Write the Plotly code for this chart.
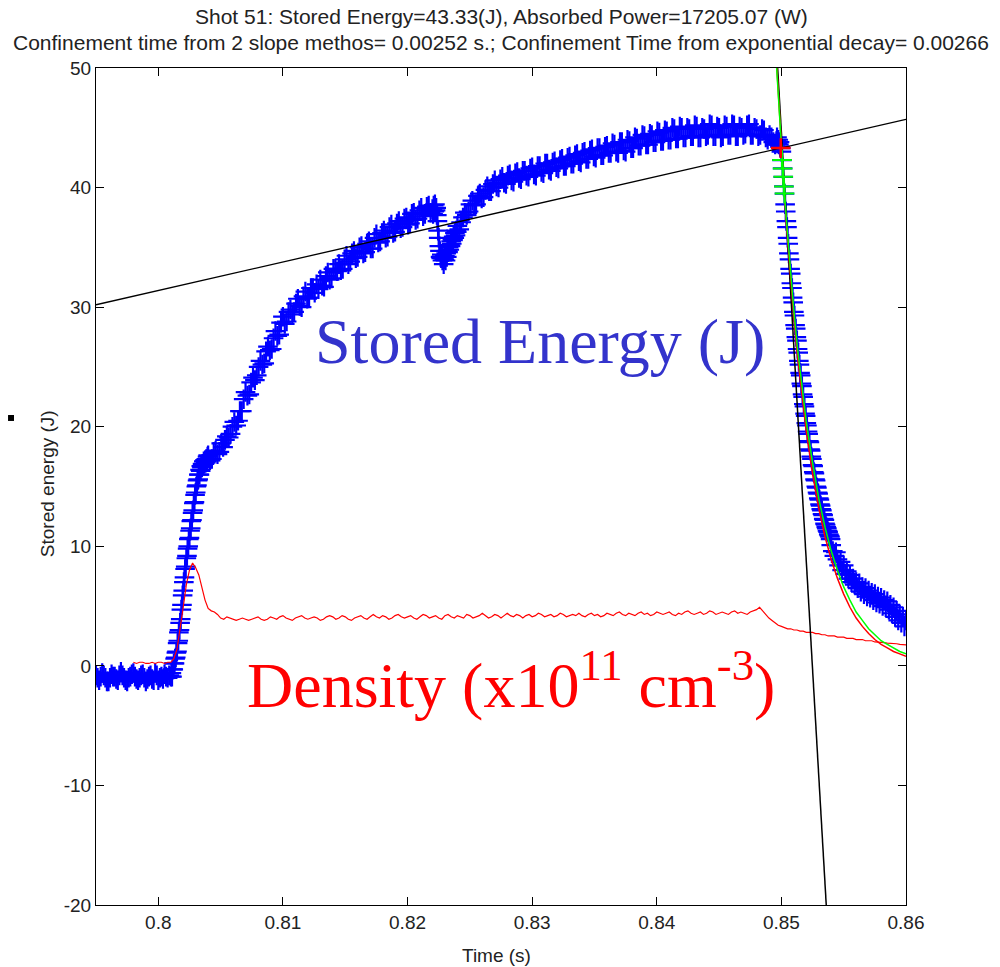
import numpy as np
import plotly.graph_objects as go

# ---------------- data ----------------
# Stored energy (J): sampled segments (start time, sample step, values)
E_A_T0, E_A_DT = 0.7950, 0.000125
E_A = [-0.8, -1.0, -1.2, -0.9, -0.6, -0.8, -1.0, -1.3, -1.3, -1.0, -0.7, -0.9,
       -0.9, -1.1, -1.2, -0.8, -0.5, -0.8, -1.0, -1.2, -1.3, -1.0, -0.9, -0.7,
       -0.6, -0.9, -1.1, -1.2, -1.0, -0.8, -0.7, -1.0, -1.3, -1.1, -0.9, -0.8,
       -1.1, -1.2, -0.6, -0.8, -1.2, -1.0, -0.9, -1.1, -0.7, -0.9, -1.0, -0.8]

E_B_T0, E_B_DT = 0.8010, 0.00005
E_B = [-0.9, -0.6, -0.9, -0.3, -0.3, 0.2, 0.2, 0.6, 0.7, 1.1,
       1.2, 1.9, 2.1, 2.8, 3.0, 3.6, 3.9, 4.7, 5.1, 5.9,
       6.3, 7.0, 7.4, 8.1, 8.3, 9.0, 9.2, 9.8, 10.0, 10.6,
       10.7, 11.3, 11.5, 12.1, 12.2, 12.8, 13.0, 13.6, 13.7, 14.3,
       14.5, 15.0, 15.1, 15.5, 15.6, 16.0, 16.0, 16.4, 16.3, 16.7,
       16.6, 16.9, 16.8, 17.1, 16.9, 17.2, 17.0, 17.3, 17.1, 17.5]

E_C1_T0, E_C1_DT = 0.8040, 0.00015
E_C1 = [17.6, 17.2, 17.3, 17.9, 18.0, 17.7, 17.9, 18.6, 18.3, 18.9,
        19.2, 19.1, 19.4, 20.0, 20.4, 20.1, 20.5, 21.3, 21.3, 22.3,
        22.9, 22.6, 22.7, 23.7, 24.1, 23.9, 24.3, 25.0, 25.5, 25.2,
        25.3, 26.3, 26.7, 26.4, 26.5, 27.4, 28.0, 27.6, 27.7, 28.7,
        29.2, 28.6, 28.8, 29.6, 29.8, 29.4, 29.6, 30.3, 30.7, 30.1,
        30.0, 30.9, 31.3, 30.7, 30.8, 31.6, 31.6, 31.2, 31.9, 31.5,
        32.3, 31.8, 31.7, 32.6, 32.9, 32.3, 32.4, 33.2, 33.2, 33.0,
        33.6, 33.1, 33.2, 34.0, 34.3, 33.6, 33.8, 34.5, 34.7, 34.1,
        34.2, 35.0, 35.1, 34.5, 34.6, 35.3, 35.5, 34.9, 34.9, 35.8,
        36.1, 35.4, 35.5, 36.2, 36.4, 35.8, 35.9, 36.7, 36.9, 36.2,
        36.3, 37.0, 37.2, 36.6, 36.7, 37.4, 37.5, 36.9, 37.0, 37.8,
        37.9, 37.3, 37.4, 38.1, 38.3, 37.6, 37.8, 38.4, 38.5, 37.9]

E_C2_T0, E_C2_DT = 0.8220, 0.00005
E_C2 = [38.2, 37.8, 38.5, 38.0, 38.6, 38.1, 38.3, 37.7, 37.2, 36.4,
        35.8, 35.1, 34.7, 34.2, 34.1, 34.4, 33.9, 34.1, 33.6, 34.0,
        34.3, 33.9, 34.5, 34.2, 34.7, 34.6, 35.0, 34.8, 35.2, 35.1,
        35.5, 35.3, 35.7, 35.6, 35.9, 35.8, 36.2, 36.0, 36.4, 36.3]

E_C3_T0, E_C3_DT = 0.8240, 0.00015
E_C3 = [36.8, 36.5, 37.1, 37.5, 37.9, 37.7, 38.0, 38.6, 38.9, 38.5,
        38.6, 39.3, 39.5, 39.1, 39.2, 39.8, 40.1, 39.7, 39.7, 40.3,
        40.6, 40.1, 40.0, 40.7, 40.9, 40.4, 40.3, 41.0, 41.1, 40.6,
        40.5, 41.2, 41.3, 40.8, 40.7, 41.4, 41.4, 41.0, 40.9, 41.6,
        41.7, 41.1, 41.0, 41.8, 41.8, 41.3, 41.2, 42.0, 42.0, 41.5,
        41.4, 42.1, 42.2, 41.7, 41.6, 42.3, 42.4, 41.8, 41.8, 42.5,
        42.6, 42.0, 42.0, 42.7, 42.8, 42.2, 42.1, 42.9, 43.0, 42.4,
        42.4, 43.1, 43.2, 42.6, 42.5, 43.3, 43.3, 42.7, 42.7, 43.4,
        43.5, 42.9, 42.9, 43.7, 43.6, 43.0, 42.9, 43.8, 43.8, 43.1,
        43.0, 44.0, 43.9, 43.3, 43.3, 44.2, 44.1, 43.5, 43.5, 44.4,
        44.3, 43.6, 43.6, 44.5, 44.4, 43.8, 43.8, 44.7, 44.6, 43.9,
        43.9, 44.8, 44.7, 44.0, 44.0, 45.0, 44.9, 44.1, 44.1, 45.1,
        45.0, 44.2, 44.2, 45.0, 44.9, 44.3, 44.3, 45.2, 45.1, 44.2,
        44.2, 45.0, 44.9, 44.3, 44.4, 45.3, 45.2, 44.3, 44.3, 45.1,
        45.0, 44.2, 44.3, 45.2, 45.1, 44.4, 44.4, 45.3, 45.2, 44.3,
        44.3, 45.1, 45.0, 44.4, 44.5, 45.2, 45.3, 44.4, 44.4, 45.0,
        44.9, 44.3, 44.4, 44.9, 44.8, 44.2, 44.0, 44.4, 44.2, 43.8,
        43.6]

E_D_T0, E_D_DT = 0.8496, 0.00005
E_D = [43.9, 44.2, 43.7, 44.0, 43.6, 43.8, 43.4, 43.3,
       43.0, 42.3, 41.6, 40.9, 40.1, 39.5, 38.6, 38.0, 37.2, 36.7,
       35.8, 35.3, 34.5, 34.0, 33.2, 32.8, 32.0, 31.6, 30.8, 30.4,
       29.6, 29.3, 28.5, 28.2, 27.5, 27.2, 26.5, 26.2, 25.5, 25.2,
       24.5, 24.3, 23.6, 23.4, 22.7, 22.5, 21.9, 21.7, 21.1, 20.9,
       20.3, 20.1, 19.6, 19.4, 18.8, 18.7, 18.1, 18.0, 17.5, 17.3,
       16.8, 16.7, 16.2, 16.1, 15.6, 15.5, 15.0, 14.9, 14.5, 14.4,
       14.0, 13.9, 13.5, 13.4, 13.1, 13.0, 12.7, 12.6, 12.3, 12.2,
       11.9, 11.8, 11.6, 11.5, 11.3, 11.2, 11.0, 10.9, 10.8, 10.6]

E_E_T0, E_E_DT = 0.8540, 0.000125
E_E = [10.1, 9.6, 9.2, 9.5, 8.9, 8.4, 8.7, 8.0, 8.4, 7.7,
       7.9, 7.3, 7.6, 7.0, 7.3, 6.8, 7.0, 6.5, 6.9, 6.2,
       6.6, 6.0, 6.5, 5.8, 6.3, 5.7, 6.1, 5.5, 6.0, 5.3,
       5.8, 5.2, 5.7, 5.0, 5.5, 4.9, 5.4, 4.7, 5.1, 4.4,
       4.9, 4.1, 4.6, 3.8, 4.3, 3.6, 4.1, 3.3, 3.8]

# Density (x10^11 cm^-3), sampled every 0.25 ms from 0.798 s
DENS_T0, DENS_DT = 0.7980, 0.00025
DENSITY = [0.3, 0.2, 0.3, 0.3, 0.2, 0.2, 0.3, 0.2, 0.3, 0.3, 0.2, 0.3, 0.3,
           0.6, 1.4, 3.0, 4.9, 6.8, 8.0, 8.6, 8.2, 7.6, 6.6, 5.5, 4.8, 4.6,
           4.5, 4.3, 4.0, 3.9, 4.1, 4.0, 3.9,
           3.8, 3.9, 4.0, 3.9, 3.8, 3.9, 4.0, 4.1, 3.9, 3.8, 3.9, 4.1, 4.0, 3.9, 4.1, 4.2, 4.0, 3.9, 3.8, 4.0,
           4.1, 4.2, 4.0, 3.9, 4.0, 4.1, 4.0, 3.8, 3.9, 4.1, 4.2, 4.1, 3.9, 4.0, 4.2, 4.1, 3.9, 3.8, 4.0, 4.1,
           4.2, 4.0, 3.9, 4.1, 4.3, 4.1, 4.0, 4.2, 4.1, 3.9, 4.0, 4.2, 4.3, 4.1, 4.0, 4.1, 4.2, 4.0, 3.9, 4.1,
           4.3, 4.2, 4.0, 4.1, 4.2, 4.0, 3.9, 4.2, 4.3, 4.1, 4.0, 4.2, 4.1, 4.0, 4.3, 4.2, 4.0, 4.1, 4.2, 4.4,
           4.2, 4.0, 4.1, 4.3, 4.2, 4.0, 4.2, 4.4, 4.2, 4.1, 4.3, 4.2, 4.0, 4.2, 4.3, 4.1, 4.2, 4.4, 4.3, 4.1,
           4.2, 4.3, 4.1, 4.2, 4.4, 4.3, 4.1, 4.2, 4.3, 4.2, 4.4, 4.2, 4.1, 4.3, 4.4, 4.2, 4.3, 4.1, 4.2, 4.4,
           4.3, 4.2, 4.4, 4.5, 4.3, 4.2, 4.4, 4.3, 4.2, 4.4, 4.5, 4.3, 4.4, 4.2, 4.3, 4.5, 4.4, 4.3, 4.4, 4.5,
           4.3, 4.2, 4.4, 4.3, 4.5, 4.6, 4.4, 4.3, 4.4, 4.5, 4.3, 4.4, 4.6, 4.5, 4.3, 4.4, 4.5, 4.4, 4.3, 4.5,
           4.6, 4.4, 4.5, 4.4, 4.3, 4.5, 4.6, 4.7,
           4.9,
           4.6, 4.3, 4.0, 3.8, 3.6, 3.4, 3.3, 3.2, 3.1, 3.1,
           3.0, 3.0, 2.9, 2.9, 2.8, 2.8, 2.8, 2.7, 2.7, 2.6,
           2.6, 2.5, 2.5, 2.5, 2.4, 2.4, 2.4, 2.3, 2.3, 2.3,
           2.2, 2.2, 2.2, 2.1, 2.1, 2.1, 2.0, 2.0, 2.0, 1.95,
           1.9, 1.9, 1.85, 1.85, 1.8, 1.8, 1.75]

# Linear (slow) fit line and steep tangent line, end points
LIN_T = [0.7950, 0.8600]
LIN_W = [30.2, 45.7]
TAN_T = [0.8497, 0.8536]
TAN_W = [50.0, -20.0]

# Exponential-decay fit curves (green, red)
FIT_T = [0.84962, 0.8498, 0.8500, 0.8502, 0.8504, 0.8506, 0.8508, 0.8510, 0.8513,
         0.8516, 0.8520, 0.8525, 0.8530, 0.8535, 0.8540, 0.8545, 0.8550, 0.8555,
         0.8560, 0.8565, 0.8570, 0.8575, 0.8580, 0.8585, 0.8590, 0.8595, 0.8600]
GREEN_FIT = [50.0, 46.7, 43.3, 40.2, 37.3, 34.6, 32.0, 29.7, 26.5,
             23.7, 20.4, 17.0, 14.0, 11.6, 9.6, 8.0, 6.6, 5.5,
             4.5, 3.8, 3.1, 2.6, 2.1, 1.8, 1.5, 1.2, 1.0]
RED_FIT_T = [0.84964, 0.8498, 0.8500, 0.8502, 0.8504, 0.8506, 0.8508, 0.8510, 0.8513,
             0.8516, 0.8520, 0.8525, 0.8530, 0.8535, 0.8540, 0.8545, 0.8550, 0.8555,
             0.8560, 0.8565, 0.8570, 0.8575, 0.8580, 0.8585, 0.8590, 0.8595, 0.8600]
RED_FIT = [50.0, 46.9, 43.3, 40.0, 36.9, 34.1, 31.5, 29.1, 25.8,
           22.9, 19.6, 16.1, 13.2, 10.8, 8.9, 7.3, 6.0, 4.9,
           4.0, 3.3, 2.7, 2.2, 1.8, 1.5, 1.2, 1.0, 0.8]

# Points used for the decay fit (green +) and the peak point (red +)
GREEN_PTS_T = [0.85005, 0.85010, 0.85015, 0.85020, 0.85025]
GREEN_PTS_W = [42.3, 41.6, 40.9, 40.1, 39.5]
PEAK_T = [0.84995]
PEAK_W = [43.3]

TITLE_1 = "Shot 51: Stored Energy=43.33(J), Absorbed Power=17205.07 (W)"
TITLE_2 = ("Confinement time from 2 slope methos= 0.00252 s.; "
           "Confinement Time from exponential decay= 0.00266")
X_TICKS = [0.80, 0.81, 0.82, 0.83, 0.84, 0.85, 0.86]
X_TICK_TEXT = ["0.8", "0.81", "0.82", "0.83", "0.84", "0.85", "0.86"]
Y_TICKS = [-20, -10, 0, 10, 20, 30, 40, 50]
Y_TICK_TEXT = ["-20", "-10", "0", "10", "20", "30", "40", "50"]

# ---------------- build figure ----------------
segments = [(E_A_T0, E_A_DT, E_A), (E_B_T0, E_B_DT, E_B), (E_C1_T0, E_C1_DT, E_C1),
            (E_C2_T0, E_C2_DT, E_C2), (E_C3_T0, E_C3_DT, E_C3),
            (E_D_T0, E_D_DT, E_D), (E_E_T0, E_E_DT, E_E)]
e_t = np.concatenate([t0 + dt * np.arange(len(v)) for t0, dt, v in segments])
e_w = np.concatenate([np.array(v, float) for _, _, v in segments])
d_t = DENS_T0 + DENS_DT * np.arange(len(DENSITY))

SMALL = dict(family="Liberation Sans, Arial, sans-serif", size=19, color="#222222")
BIG = "Liberation Serif, Times New Roman, serif"

fig = go.Figure()
fig.add_trace(go.Scatter(x=e_t, y=e_w, mode="markers",
                         marker=dict(symbol="cross-thin", size=14, color="#0000ff",
                                     line=dict(color="#0000ff", width=2.2))))
fig.add_trace(go.Scatter(x=d_t, y=DENSITY, mode="lines",
                         line=dict(color="#ff0000", width=1.2)))
fig.add_trace(go.Scatter(x=LIN_T, y=LIN_W, mode="lines", line=dict(color="#000000", width=1.3)))
fig.add_trace(go.Scatter(x=TAN_T, y=TAN_W, mode="lines", line=dict(color="#000000", width=1.5)))
fig.add_trace(go.Scatter(x=RED_FIT_T, y=RED_FIT, mode="lines", line=dict(color="#ff0000", width=1.5)))
fig.add_trace(go.Scatter(x=FIT_T, y=GREEN_FIT, mode="lines", line=dict(color="#00ff00", width=1.5)))
fig.add_trace(go.Scatter(x=GREEN_PTS_T, y=GREEN_PTS_W, mode="markers",
                         marker=dict(symbol="cross-thin", size=14, color="#00ff00",
                                     line=dict(color="#00ff00", width=2))))
fig.add_trace(go.Scatter(x=PEAK_T, y=PEAK_W, mode="markers",
                         marker=dict(symbol="cross-thin", size=14, color="#ff0000",
                                     line=dict(color="#ff0000", width=2.5))))

axis_common = dict(showgrid=False, zeroline=False, showline=True, linecolor="#000000",
                   linewidth=1, mirror="ticks", ticks="inside", ticklen=8,
                   tickcolor="#000000", tickwidth=1, tickfont=SMALL)
fig.update_xaxes(range=[0.795, 0.86], tickvals=X_TICKS, ticktext=X_TICK_TEXT, **axis_common)
fig.update_yaxes(range=[-20, 50], tickvals=Y_TICKS, ticktext=Y_TICK_TEXT, **axis_common)

annotations = [
    dict(text=TITLE_1, x=0.5, y=1.061, xref="paper", yref="paper", showarrow=False,
         xanchor="center", yanchor="middle", font=dict(SMALL, size=21)),
    dict(text=TITLE_2, x=0.5, y=1.031, xref="paper", yref="paper", showarrow=False,
         xanchor="center", yanchor="middle", font=dict(SMALL, size=21)),
    dict(text="Time (s)", x=0.495, y=-0.06, xref="paper", yref="paper", showarrow=False,
         xanchor="center", yanchor="middle", font=SMALL),
    dict(text="Stored energy (J)", x=-0.0605, y=0.504, xref="paper", yref="paper",
         showarrow=False, textangle=-90, xanchor="center", yanchor="middle", font=SMALL),
    dict(text="Stored Energy (J)", x=0.8306, y=27.1, xref="x", yref="y", showarrow=False,
         xanchor="center", yanchor="middle", font=dict(family=BIG, size=64, color="#3333cc")),
    dict(text="Density (x10<sup>11</sup> cm<sup>-3</sup>)", x=0.8283, y=-1.25, xref="x", yref="y",
         showarrow=False, xanchor="center", yanchor="middle",
         font=dict(family=BIG, size=64, color="#ff0000")),
]

fig.update_layout(width=1000, height=967, margin=dict(l=96, r=94, t=68, b=62),
                  paper_bgcolor="white", plot_bgcolor="white", showlegend=False,
                  annotations=annotations,
                  shapes=[dict(type="rect", xref="paper", yref="paper",
                               x0=-0.1086, x1=-0.1012, y0=0.5783, y1=0.5854,
                               fillcolor="#000000", line=dict(width=0))])

fig.write_html("out.html")
